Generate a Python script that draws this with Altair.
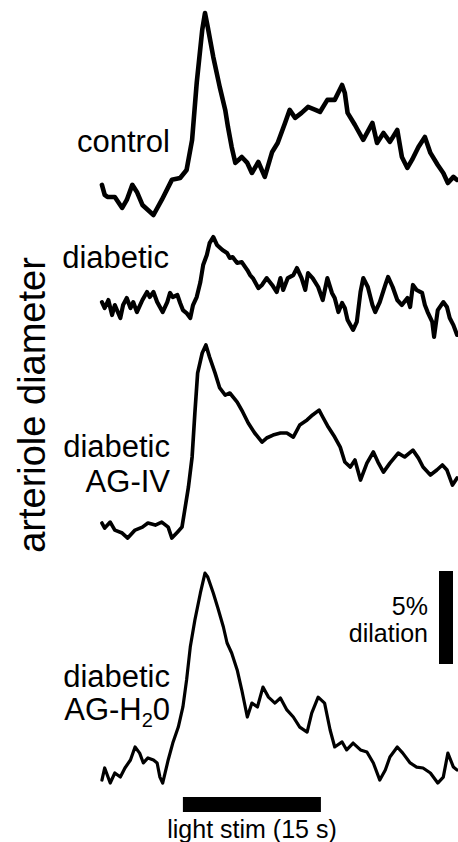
import altair as alt
import pandas as pd

# ---------------- data ----------------
trace_names = ["control", "diabetic", "diabetic AG-IV", "diabetic AG-H2O"]
# vertical stacking offset of each trace (in % dilation units)
trace_offsets = [34.52, 28.87, 16.88, 3.87]

control_t = [0.1, 0.4, 0.7, 1.5, 2.3, 2.8, 3.4, 3.9, 4.5, 5.1, 5.7, 6.6, 7.7, 8.6, 9.3,
             9.9, 10.4, 11.0, 11.3, 11.6, 12.2, 12.9, 13.5, 13.8, 14.2, 14.6, 15.3, 15.9, 16.4, 17.1,
             17.8, 18.6, 19.2, 20.0, 20.5, 21.1, 21.8, 22.5, 23.3, 23.8, 24.6, 25.4, 26.2, 26.5, 26.8,
             27.6, 27.9, 28.5, 29.5, 30.0, 30.7, 31.4, 32.2, 32.7, 33.3, 33.8, 34.5, 35.2, 35.8, 36.6,
             37.2, 37.7, 38.3, 38.7]
control_v = [0.81, 0.27, 0.16, 0.16, -0.43, 0, 0.81, 0.43, -0.27, -0.54, -0.81, 0, 1.08, 1.18, 1.61,
             3.23, 6.29, 9.14, 10.05, 9.30, 7.69, 6.08, 4.84, 3.92, 2.85, 1.99, 2.31, 1.99, 1.45, 2.04,
             1.24, 2.58, 3.06, 4.14, 4.84, 4.41, 4.68, 5.00, 4.84, 4.73, 5.38, 5.38, 6.18, 5.75, 4.68,
             4.03, 3.76, 3.23, 4.14, 3.06, 3.60, 3.12, 3.76, 2.31, 1.72, 2.15, 2.85, 3.39, 2.53, 1.88,
             1.45, 0.91, 1.24, 1.08]

diabetic_t = [0.1, 0.4, 0.8, 1.2, 1.5, 2.1, 2.4, 2.8, 3.2, 3.5, 3.9, 4.5, 5.0, 5.3, 5.7,
              6.1, 6.4, 6.7, 7.2, 7.5, 7.8, 8.3, 8.6, 8.9, 9.3, 9.7, 10.0, 10.4, 10.8, 11.1,
              11.5, 11.8, 12.2, 12.6, 13.2, 13.7, 14.0, 14.3, 14.8, 15.3, 15.9, 16.2, 16.5, 17.1, 17.5,
              18.0, 18.6, 19.1, 19.5, 19.8, 20.3, 20.9, 21.3, 21.8, 22.2, 22.5, 23.0, 23.6, 24.1, 24.6,
              25.1, 25.4, 25.8, 26.2, 26.5, 26.8, 27.4, 27.8, 28.2, 28.5, 29.0, 29.5, 29.8, 30.3, 30.9,
              31.2, 31.7, 32.2, 32.7, 33.3, 33.6, 33.9, 34.3, 34.9, 35.2, 35.5, 36.0, 36.2, 36.6, 37.2,
              37.6, 37.9, 38.3, 38.7]
diabetic_v = [0.16, -0.16, 0.27, -0.54, 0, -0.70, 0, 0.38, -0.16, 0.16, -0.38, 0.27, 0.70, 0.43, 0.70,
              0.16, -0.11, -0.38, 0.16, 0.65, 0.43, 0.54, 0.11, -0.27, -0.43, -0.70, 0, 0.43, 1.24, 2.15,
              2.69, 3.33, 3.66, 3.23, 2.96, 2.80, 2.53, 2.58, 2.26, 2.31, 1.88, 1.61, 1.45, 0.91, 1.08,
              1.45, 1.08, 0.70, 1.45, 0.81, 1.45, 1.61, 1.99, 1.45, 0.81, 1.72, 1.45, 0.97, 0.27, 1.45,
              0.65, 0.38, -0.38, 0.11, -0.16, -0.81, -1.34, -0.91, 0.70, 1.45, 0.97, 0, -0.38, 0.16, 1.08,
              1.51, 0.97, 0.27, 0, 0.38, -0.11, 1.08, 0.81, 0.65, 0, -0.38, -0.91, -1.72, -0.27, 0.16,
              -0.11, -0.70, -1.08, -1.61]

agiv_t = [0.1, 0.4, 1.0, 1.5, 2.3, 2.9, 3.7, 4.5, 5.1, 5.9, 6.6, 7.3, 7.7, 8.3, 8.8,
          9.1, 9.5, 9.9, 10.2, 10.5, 11.0, 11.4, 11.8, 12.4, 12.9, 13.5, 14.0, 14.8, 15.4, 16.0,
          16.7, 17.5, 18.0, 18.7, 19.5, 20.2, 20.9, 21.6, 22.4, 23.0, 23.7, 24.1, 24.7, 25.4, 26.0,
          26.5, 27.1, 27.6, 28.2, 28.9, 29.6, 30.1, 30.7, 31.4, 32.3, 33.0, 33.9, 34.5, 35.0, 35.8,
          36.5, 37.1, 37.6, 38.2, 38.7]
agiv_v = [0.27, 0, 0.32, -0.11, -0.27, -0.54, -0.11, 0.05, 0.27, 0.16, 0.32, 0.05, -0.54, -0.22, 0.05,
          0.97, 2.20, 3.82, 6.18, 8.33, 9.41, 9.84, 9.19, 8.33, 7.53, 7.15, 7.26, 6.77, 6.24, 5.65,
          5.11, 4.62, 4.84, 5.00, 5.11, 5.11, 4.89, 5.54, 5.81, 6.08, 6.34, 5.97, 5.43, 4.89, 4.35,
          3.55, 3.28, 3.66, 2.58, 3.49, 4.09, 3.55, 3.01, 3.49, 4.03, 3.82, 4.19, 3.76, 3.28, 2.85,
          3.12, 3.39, 3.12, 2.31, 2.69]

agh2o_t = [0.1, 0.4, 1.0, 1.5, 2.1, 2.6, 3.2, 3.7, 4.2, 4.6, 5.1, 5.7, 6.1, 6.4, 6.7,
           7.3, 7.8, 8.4, 8.9, 9.3, 9.7, 10.2, 10.8, 11.3, 11.6, 12.2, 12.7, 13.3, 13.7, 14.2,
           14.8, 15.3, 15.9, 16.4, 17.0, 17.6, 18.2, 18.9, 19.5, 20.2, 20.9, 21.6, 22.4, 22.9, 23.6,
           24.3, 24.9, 25.4, 26.2, 26.7, 27.4, 28.2, 28.9, 29.6, 30.3, 30.9, 31.4, 32.2, 32.8, 33.6,
           34.3, 35.0, 35.8, 36.6, 37.2, 37.7, 38.3, 38.7]
agh2o_v = [-0.54, 0.11, -0.70, -0.16, -0.38, 0.11, 0.54, 1.24, 0.91, 0.38, 0.65, 0.54, 0.38, -0.38, -0.70,
           0.54, 1.45, 2.31, 3.39, 4.84, 6.61, 8.06, 9.52, 10.59, 10.38, 9.52, 8.71, 7.69, 6.83, 6.29,
           5.38, 4.30, 2.85, 3.60, 3.39, 4.46, 3.92, 3.60, 3.87, 3.23, 2.85, 2.31, 2.04, 3.06, 3.92,
           3.60, 2.15, 1.24, 1.51, 1.08, 1.45, 1.08, 0.97, 0.38, -0.54, 0, 0.70, 1.24, 0.91, 0.38,
           0.16, 0.11, -0.16, -0.70, -0.38, 0.91, 0.16, 0]

stim_start_s = [8.9]
stim_end_s = [23.9]
scale_bar_pct = 5

# ---------------- build table ----------------
series = [(control_t, control_v), (diabetic_t, diabetic_v), (agiv_t, agiv_v), (agh2o_t, agh2o_v)]
rows = []
for name, off, (ts, vs) in zip(trace_names, trace_offsets, series):
    for t, v in zip(ts, vs):
        rows.append({"trace": name, "t": t, "pct": v, "y": v + off})
df = pd.DataFrame(rows)

FONT = "Liberation Sans"
W, H = 458, 842
xscale = alt.Scale(domain=[-10.98, 38.80], nice=False, zero=False)
yscale = alt.Scale(domain=[0, 45.27], nice=False, zero=False)

lines = alt.Chart(df).mark_line(color="black", strokeJoin="round", strokeCap="round").encode(
    x=alt.X("t:Q", scale=xscale, axis=None),
    y=alt.Y("y:Q", scale=yscale, axis=None),
    detail="trace:N",
    strokeWidth=alt.StrokeWidth("trace:N", legend=None,
                                scale=alt.Scale(domain=trace_names, range=[4.6, 3.2, 4.2, 4.0])),
)

stim = alt.Chart(pd.DataFrame({"s": stim_start_s, "e": stim_end_s})).mark_rect(color="black").encode(
    x=alt.X("s:Q", scale=xscale, axis=None),
    x2="e:Q",
    y=alt.value(797),
    y2=alt.value(812),
)

bar = alt.Chart(pd.DataFrame({"b": [9.57], "tp": [9.57 + scale_bar_pct]})).mark_rect(color="black").encode(
    x=alt.value(439),
    x2=alt.value(453),
    y=alt.Y("b:Q", scale=yscale, axis=None),
    y2="tp:Q",
)


def label(txt, x, y, size=31, align="right", angle=0):
    return alt.Chart(pd.DataFrame({"a": [0]})).mark_text(
        text=txt, font=FONT, fontSize=size, align=align, baseline="alphabetic",
        angle=angle, color="black"
    ).encode(x=alt.value(x), y=alt.value(y))


texts = [
    label("control", 170, 152),
    label("diabetic", 169, 268),
    label("diabetic", 170, 457),
    label("AG-IV", 170, 492),
    label("diabetic", 170, 687),
    label("AG-H", 141.7, 720),
    label("2", 152.8, 727, size=20),
    label("0", 170, 720),
    label("5%", 428, 615, size=25),
    label("dilation", 428, 642, size=25),
    label("light stim (15 s)", 252, 838, size=25, align="center"),
    label("arteriole diameter", 45, 405, size=38, align="center", angle=270),
]

chart = alt.layer(lines, stim, bar, *texts).properties(
    width=W, height=H, padding=0, autosize=alt.AutoSizeParams(type="none"),
    background="white",
).configure_view(stroke=None)

chart.save("out.html", embed_options={"renderer": "svg", "actions": False})
